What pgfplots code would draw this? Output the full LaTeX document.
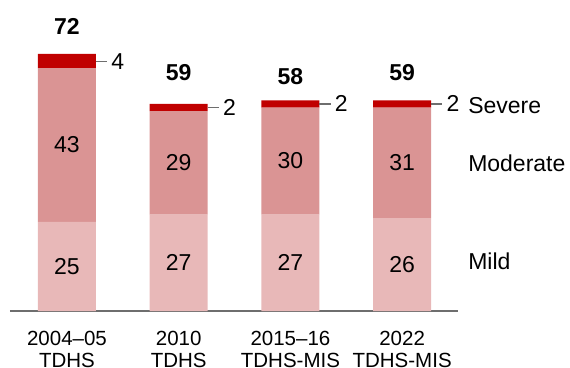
\documentclass[border=0pt]{standalone}
\usepackage{pgfplots}
\pgfplotsset{compat=1.18}
\usepackage{fontspec}
\setmainfont{Liberation Sans}
\definecolor{mild}{RGB}{232,184,184}
\definecolor{moderate}{RGB}{218,148,148}
\definecolor{severe}{RGB}{192,0,0}
\definecolor{axgray}{RGB}{110,110,110}
\newcommand{\bigf}{\fontsize{23}{27}\selectfont}
\newcommand{\tickf}{\fontsize{20.5}{22.5}\selectfont}
\tikzset{
  seg/.style={font=\bigf},
  tot/.style={font=\bigf\bfseries, yshift=27.5pt},
  sevline/.style={axgray, line width=1.2pt},
  sevlab/.style={anchor=west, inner sep=0pt, font=\bigf, text=black},
}
\begin{document}
\begin{tikzpicture}
\path[use as bounding box] (-10pt,-56pt) rectangle (560pt,311pt);
\begin{axis}[
  at={(0,0)}, anchor=south west,
  scale only axis, width=448pt, height=285.6pt,
  xmin=-0.51, xmax=3.5, ymin=0, ymax=80,
  ybar stacked, bar width=58pt,
  axis x line*=bottom, axis y line=none,
  x axis line style={axgray, line width=1.3pt, -},
  xtick={0,1,2,3},
  xticklabels={{2004--05\\TDHS},{2010\\TDHS},{2015--16\\TDHS-MIS},{2022\\TDHS-MIS}},
  xticklabel style={align=center, font=\tickf, inner sep=0pt, yshift=-19.5pt},
  major tick length=0pt,
  clip=false,
]
\addplot[fill=mild, draw=none] coordinates {(0,25) (1,27) (2,27) (3,26)};
\addplot[fill=moderate, draw=none] coordinates {(0,43) (1,29) (2,30) (3,31)};
\addplot[fill=severe, draw=none] coordinates {(0,4) (1,2) (2,2) (3,2)};
% anchor coordinates for labels
\coordinate (m0) at (axis cs:0,12.5);
\coordinate (m1) at (axis cs:1,13.5);
\coordinate (m2) at (axis cs:2,13.5);
\coordinate (m3) at (axis cs:3,13);
\coordinate (o0) at (axis cs:0,46.5);
\coordinate (o1) at (axis cs:1,41.5);
\coordinate (o2) at (axis cs:2,42);
\coordinate (o3) at (axis cs:3,41.5);
\coordinate (t0) at (axis cs:0,72);
\coordinate (t1) at (axis cs:1,59);
\coordinate (t2) at (axis cs:2,58);
\coordinate (t3) at (axis cs:3,59);
\coordinate (sa0) at (axis cs:0.26,70);
\coordinate (sb0) at (axis cs:0.36,70);
\coordinate (sa1) at (axis cs:1.26,57);
\coordinate (sb1) at (axis cs:1.36,57);
\coordinate (sa2) at (axis cs:2.26,58);
\coordinate (sb2) at (axis cs:2.36,58);
\coordinate (sa3) at (axis cs:3.26,58);
\coordinate (sb3) at (axis cs:3.36,58);
\coordinate (lsev) at (axis cs:3.59,57.5);
\coordinate (lmod) at (axis cs:3.59,41.5);
\coordinate (lmil) at (axis cs:3.59,14);
\end{axis}
% segment labels
\node[seg] at (m0) {25};
\node[seg] at (m1) {27};
\node[seg] at (m2) {27};
\node[seg] at (m3) {26};
\node[seg] at (o0) {43};
\node[seg] at (o1) {29};
\node[seg] at (o2) {30};
\node[seg] at (o3) {31};
% totals
\node[tot] at (t0) {72};
\node[tot] at (t1) {59};
\node[tot] at (t2) {58};
\node[tot] at (t3) {59};
% severe labels
\draw[sevline] (sa0) -- (sb0);
\draw[sevline] (sa1) -- (sb1);
\draw[sevline] (sa2) -- (sb2);
\draw[sevline] (sa3) -- (sb3);
\node[sevlab, xshift=4pt] at (sb0) {4};
\node[sevlab, xshift=4pt] at (sb1) {2};
\node[sevlab, xshift=4pt] at (sb2) {2};
\node[sevlab, xshift=4pt] at (sb3) {2};
% category labels
\node[anchor=west, font=\bigf, inner sep=0pt] at (lsev) {Severe};
\node[anchor=west, font=\bigf, inner sep=0pt] at (lmod) {Moderate};
\node[anchor=west, font=\bigf, inner sep=0pt] at (lmil) {Mild};
\end{tikzpicture}
\end{document}
